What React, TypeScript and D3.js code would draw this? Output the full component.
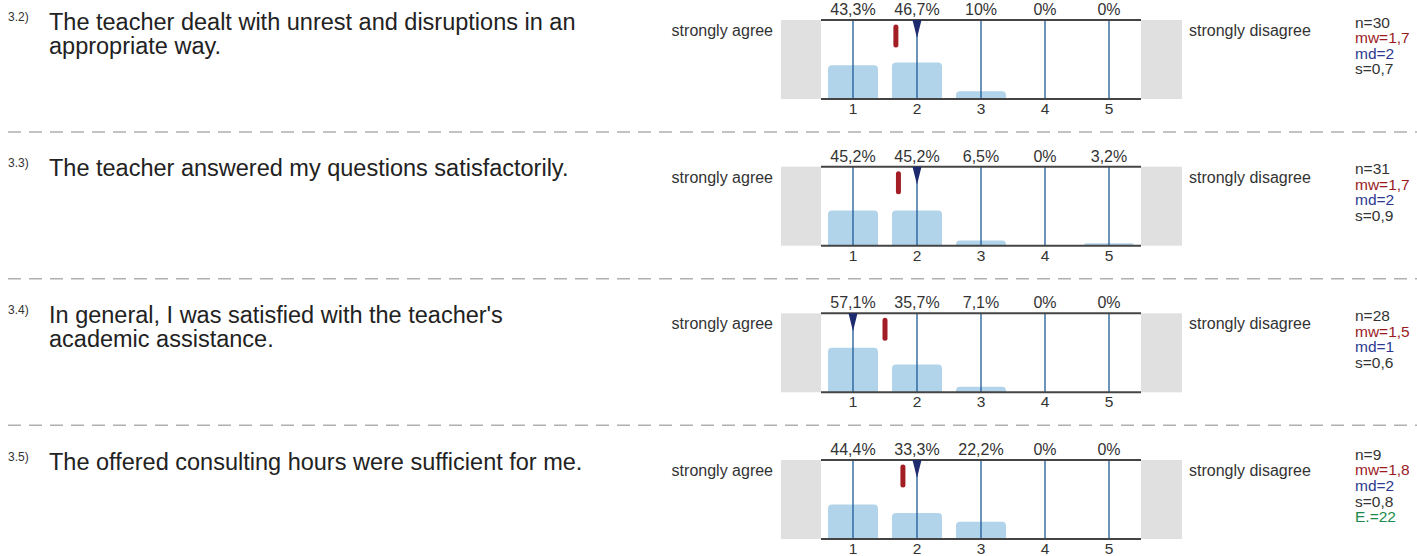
import React from 'react'
import * as d3 from 'd3'

const CATEGORIES = [1, 2, 3, 4, 5]
const QUESTION_IDS = ['3.2)', '3.3)', '3.4)', '3.5)']
const QUESTIONS = [
  ['The teacher dealt with unrest and disruptions in an', 'appropriate way.'],
  ['The teacher answered my questions satisfactorily.'],
  ["In general, I was satisfied with the teacher's", 'academic assistance.'],
  ['The offered consulting hours were sufficient for me.']
]
const PERCENTS = [
  [43.3, 46.7, 10, 0, 0],
  [45.2, 45.2, 6.5, 0, 3.2],
  [57.1, 35.7, 7.1, 0, 0],
  [44.4, 33.3, 22.2, 0, 0]
]
const COUNTS = [30, 31, 28, 9]
const MEANS = [1.67, 1.71, 1.5, 1.78]
const MEAN_LABELS = ['1,7', '1,7', '1,5', '1,8']
const MEDIANS = [2, 2, 1, 2]
const STDDEVS = ['0,7', '0,9', '0,6', '0,8']
const ABSTENTIONS = [null, null, null, 22]

const FONT = '"Liberation Sans", Arial, sans-serif'
const ROW_TOP = 20
const ROW_STEP = 146.67
const PLOT_H = 79

const x = d3.scaleLinear().domain([0.5, 5.5]).range([821, 1141])
const fmtPct = (v: number) => String(v).replace('.', ',') + '%'

function barPath(x0: number, y0: number, w: number, h: number, r: number) {
  if (h <= 0) return ''
  const rr = Math.min(r, h, w / 2)
  const p = d3.path()
  p.moveTo(x0, y0 + h)
  p.lineTo(x0, y0 + rr)
  p.arcTo(x0, y0, x0 + rr, y0, rr)
  p.lineTo(x0 + w - rr, y0)
  p.arcTo(x0 + w, y0, x0 + w, y0 + rr, rr)
  p.lineTo(x0 + w, y0 + h)
  p.closePath()
  return p.toString()
}

function Row({ i }: { i: number }) {
  const top = ROW_TOP + i * ROW_STEP
  const bottom = top + PLOT_H
  const y = d3.scaleLinear().domain([0, 100]).range([bottom, bottom - 78])
  const textBase = top + 9.5
  const stats: { t: string; c: string }[] = [
    { t: `n=${COUNTS[i]}`, c: '#333' },
    { t: `mw=${MEAN_LABELS[i]}`, c: '#9a1b1f' },
    { t: `md=${MEDIANS[i]}`, c: '#2b3990' },
    { t: `s=${STDDEVS[i]}`, c: '#333' }
  ]
  if (ABSTENTIONS[i] != null) stats.push({ t: `E.=${ABSTENTIONS[i]}`, c: '#1b8a4a' })
  const lineH = 15.6
  const statTop = top + 31 - ((stats.length - 1) * lineH) / 2
  const mx = x(MEANS[i])
  const md = x(MEDIANS[i])

  return (
    <g>
      <text x={8} y={textBase - 9} fontSize={12} fill="#333">{QUESTION_IDS[i]}</text>
      {QUESTIONS[i].map((line, k) => (
        <text key={k} x={49} y={textBase + k * 24} fontSize={23.5} fill="#222">{line}</text>
      ))}

      <text x={773} y={top + 16} fontSize={16} fill="#333" textAnchor="end">strongly agree</text>
      <text x={1189} y={top + 16} fontSize={16} fill="#333">strongly disagree</text>

      <rect x={781} y={top} width={40} height={PLOT_H} fill="#e0e0e0" />
      <rect x={1141} y={top} width={41} height={PLOT_H} fill="#e0e0e0" />

      {PERCENTS[i].map((v, k) => (
        <path key={k} d={barPath(x(CATEGORIES[k]) - 25, y(v), 50, bottom - y(v), 4)} fill="#b1d4ea" />
      ))}
      {CATEGORIES.map(c => (
        <line key={c} x1={x(c)} x2={x(c)} y1={top} y2={bottom} stroke="#1d5a96" strokeWidth={1.3} />
      ))}
      <line x1={821} x2={1141} y1={top} y2={top} stroke="#444" strokeWidth={2} />
      <line x1={821} x2={1141} y1={bottom} y2={bottom} stroke="#444" strokeWidth={2} />

      <rect x={mx - 2.5} y={top + 4.5} width={5} height={23} rx={2.5} fill="#a31d24" />
      <path d={`M${md - 4.5},${top}L${md + 4.5},${top}L${md},${top + 18}Z`} fill="#1e2a6e" />

      {PERCENTS[i].map((v, k) => (
        <text key={k} x={x(CATEGORIES[k])} y={top - 5} fontSize={16} fill="#333" textAnchor="middle">{fmtPct(v)}</text>
      ))}
      {CATEGORIES.map(c => (
        <text key={c} x={x(c)} y={bottom + 15} fontSize={15.5} fill="#333" textAnchor="middle">{c}</text>
      ))}

      {stats.map((s, k) => (
        <text key={k} x={1355} y={statTop + k * lineH} fontSize={15.5} fill={s.c}>{s.t}</text>
      ))}

      {i < QUESTIONS.length - 1 && (
        <line x1={8} x2={1417} y1={top + 112} y2={top + 112} stroke="#b0b0b0" strokeWidth={1.5} strokeDasharray="13 8" />
      )}
    </g>
  )
}

export default function App() {
  return (
    <svg width={1417} height={556} style={{ position: 'absolute', left: 0, top: 0, background: '#fff' }} fontFamily={FONT}>
      {QUESTIONS.map((_, i) => <Row key={i} i={i} />)}
    </svg>
  )
}
